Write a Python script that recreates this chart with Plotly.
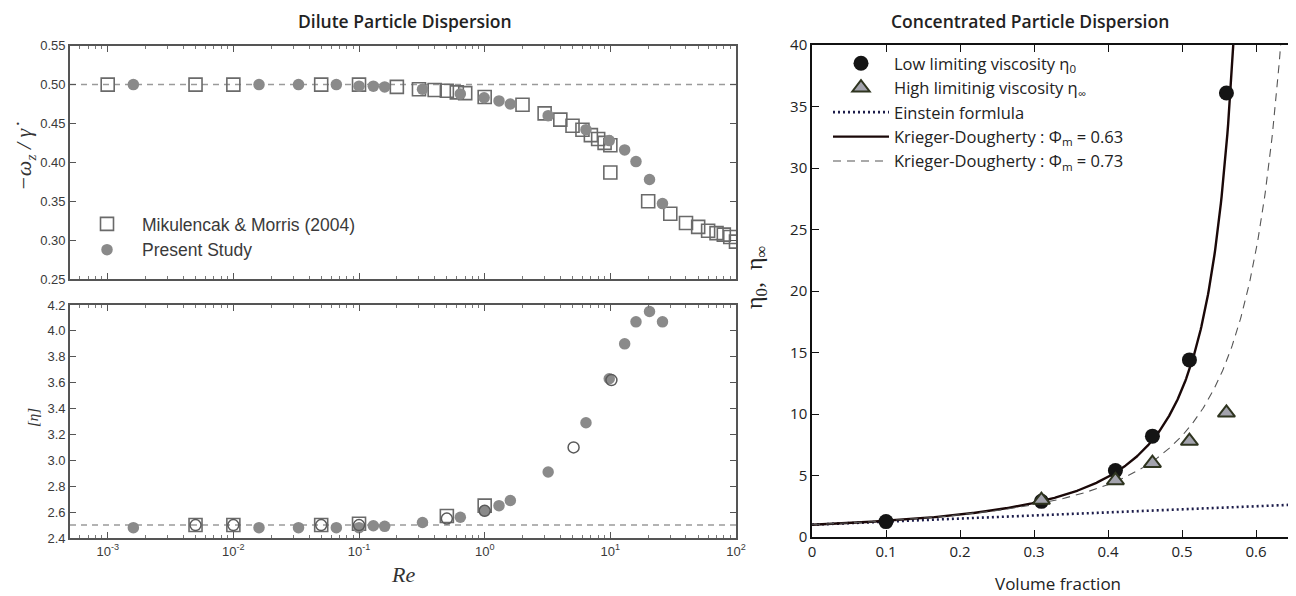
import numpy as np
import plotly.graph_objects as go

# ---------------- Dilute dispersion: rotation rate ----------------
re_mm_w = [0.001, 0.005, 0.01, 0.05, 0.1, 0.2, 0.3, 0.4, 0.5, 0.6, 0.7, 1.0, 2.0, 3.0, 4.0,
           5.0, 6.0, 7.0, 8.0, 9.0, 10.0, 10.0, 20, 30, 40, 50, 60, 70, 80, 90, 100]
w_mm = [0.5, 0.5, 0.5, 0.5, 0.5, 0.497, 0.494, 0.493, 0.492, 0.490, 0.489, 0.484, 0.474, 0.463,
        0.455, 0.447, 0.442, 0.435, 0.430, 0.425, 0.422, 0.387, 0.350, 0.334, 0.322, 0.317,
        0.312, 0.309, 0.307, 0.304, 0.298]
re_ps = [0.0016, 0.016, 0.033, 0.066, 0.1, 0.13, 0.16, 0.32, 0.64, 0.99, 1.3, 1.6, 3.2, 6.4,
         9.8, 13, 16, 20.5, 26]
w_ps = [0.5, 0.5, 0.5, 0.5, 0.498, 0.498, 0.497, 0.494, 0.488, 0.483, 0.479, 0.475, 0.46,
        0.442, 0.428, 0.416, 0.401, 0.378, 0.347]

# ---------------- Dilute dispersion: intrinsic viscosity ----------------
eta_ps = [2.48, 2.48, 2.48, 2.48, 2.48, 2.495, 2.49, 2.52, 2.56, 2.61, 2.65, 2.69, 2.91, 3.29,
          3.63, 3.90, 4.07, 4.15, 4.07]
re_mm_eta = [0.005, 0.01, 0.05, 0.1, 0.5, 1.0]
eta_mm = [2.5, 2.5, 2.5, 2.51, 2.57, 2.65]
re_open = [0.005, 0.01, 0.05, 0.1, 0.5, 1.0, 5.1, 10.2]
eta_open = [2.5, 2.5, 2.5, 2.5, 2.55, 2.61, 3.10, 3.62]

w_ref = 0.5
eta_ref = 2.5

# ---------------- Concentrated dispersion ----------------
phi_low = [0.1, 0.31, 0.41, 0.46, 0.51, 0.56]
eta0 = [1.25, 2.9, 5.4, 8.2, 14.4, 36.1]
phi_high = [0.31, 0.41, 0.46, 0.51, 0.56]
eta_inf = [3.0, 4.6, 6.0, 7.8, 10.1]

INTRINSIC = 2.5
PHI_M = [0.63, 0.73]

x_ticks_re = [0.001, 0.01, 0.1, 1, 10, 100]
x_ticktext_re = ["10<sup>-3</sup>", "10<sup>-2</sup>", "10<sup>-1</sup>", "10<sup>0</sup>",
                 "10<sup>1</sup>", "10<sup>2</sup>"]

phi_grid = np.linspace(0, 0.654, 600)
einstein = 1 + INTRINSIC * phi_grid


def kd(phi, pm):
    out = np.full_like(phi, np.nan)
    m = phi < pm * 0.999
    out[m] = (1 - phi[m] / pm) ** (-INTRINSIC * pm)
    out[out > 45] = np.nan
    return out


GRAY_C = "#8a8a8a"
GRAY_S = "#6a6a6a"

fig = go.Figure()

# top-left
fig.add_trace(go.Scatter(x=re_mm_w, y=w_mm, mode="markers", name="Mikulencak & Morris (2004)",
                         marker=dict(symbol="square-open", size=13, color=GRAY_S, line=dict(width=1.6)),
                         xaxis="x", yaxis="y", legend="legend"))
fig.add_trace(go.Scatter(x=re_ps, y=w_ps, mode="markers", name="Present Study",
                         marker=dict(symbol="circle", size=11.5, color=GRAY_C),
                         xaxis="x", yaxis="y", legend="legend"))
# bottom-left
fig.add_trace(go.Scatter(x=re_mm_eta, y=eta_mm, mode="markers", showlegend=False,
                         marker=dict(symbol="square-open", size=13, color=GRAY_S, line=dict(width=1.6)),
                         xaxis="x2", yaxis="y2"))
fig.add_trace(go.Scatter(x=re_ps, y=eta_ps, mode="markers", showlegend=False,
                         marker=dict(symbol="circle", size=11.5, color=GRAY_C),
                         xaxis="x2", yaxis="y2"))
fig.add_trace(go.Scatter(x=re_open, y=eta_open, mode="markers", showlegend=False,
                         marker=dict(symbol="circle-open", size=11, color="#5a5a5a", line=dict(width=1.5)),
                         xaxis="x2", yaxis="y2"))

# right panel
fig.add_trace(go.Scatter(x=phi_grid, y=einstein, mode="lines", name="Einstein formlula",
                         line=dict(color="#1c1c4a", width=2.6, dash="2px,3px"),
                         xaxis="x3", yaxis="y3", legend="legend2", legendrank=3))
fig.add_trace(go.Scatter(x=phi_grid, y=kd(phi_grid, PHI_M[0]), mode="lines",
                         name="Krieger-Dougherty : Φ<sub>m</sub> = 0.63",
                         line=dict(color="#1a0808", width=2.4),
                         xaxis="x3", yaxis="y3", legend="legend2", legendrank=4))
fig.add_trace(go.Scatter(x=phi_grid, y=kd(phi_grid, PHI_M[1]), mode="lines",
                         name="Krieger-Dougherty : Φ<sub>m</sub> = 0.73",
                         line=dict(color="#555555", width=1.1, dash="8px,6px"),
                         xaxis="x3", yaxis="y3", legend="legend2", legendrank=5))
fig.add_trace(go.Scatter(x=phi_low, y=eta0, mode="markers", name="Low limiting viscosity η<sub>0</sub>",
                         marker=dict(symbol="circle", size=15, color="#141414"),
                         xaxis="x3", yaxis="y3", legend="legend2", legendrank=1))
fig.add_trace(go.Scatter(x=phi_high, y=eta_inf, mode="markers",
                         name="High limitinig viscosity η<sub>∞</sub>",
                         marker=dict(symbol="triangle-up", size=15, color="#a3a3ad",
                                     line=dict(color="#2f3520", width=2)),
                         xaxis="x3", yaxis="y3", legend="legend2", legendrank=2))

W, H = 1296, 596
OFF = 8  # page body margin


def px_x(p):
    return (p - OFF) / W


def px_y(p):
    return 1 - (p - OFF) / H


left_tick_font = dict(family="Liberation Sans, Arial", size=13, color="#3a3a3a")
axis_common_left = dict(showline=True, linecolor="#555555", linewidth=1.8, mirror="ticks",
                        ticks="inside", ticklen=6, tickcolor="#555555", tickwidth=1.2,
                        showgrid=False, zeroline=False, tickfont=left_tick_font, automargin=False)

log_axis = dict(type="log", range=[-3.3, 2.0], tickvals=x_ticks_re,
                minor=dict(ticks="inside", ticklen=3, tickcolor="#777777", dtick="D1", showgrid=False),
                **axis_common_left)

fig.update_layout(
    width=W, height=H,
    margin=dict(l=0, r=0, t=0, b=0, autoexpand=False),
    plot_bgcolor="white", paper_bgcolor="white",
    xaxis=dict(domain=[px_x(70), px_x(736)], anchor="y", showticklabels=False, **log_axis),
    yaxis=dict(domain=[px_y(279), px_y(45.7)], anchor="x", range=[0.25, 0.55], dtick=0.05,
               tickformat=".2f", **axis_common_left),
    xaxis2=dict(domain=[px_x(70), px_x(736)], anchor="y2", ticktext=x_ticktext_re, **log_axis),
    yaxis2=dict(domain=[px_y(538), px_y(305)], anchor="x2", range=[2.4, 4.2], dtick=0.2,
                tickformat=".1f", **axis_common_left),
    xaxis3=dict(domain=[px_x(812), px_x(1296)], anchor="y3", range=[0, 0.654], dtick=0.1,
                showline=True, linecolor="#111111", linewidth=1.5, mirror="ticks",
                ticks="inside", ticklen=7, tickcolor="#111111", showgrid=False, zeroline=False,
                tickvals=[0, 0.1, 0.2, 0.3, 0.4, 0.5, 0.6],
                ticktext=["0", "0.1", "0.2", "0.3", "0.4", "0.5", "0.6"], automargin=False,
                tickfont=dict(family="Open Sans", size=15, color="#222222")),
    yaxis3=dict(domain=[px_y(537), px_y(45)], anchor="x3", range=[0, 40], dtick=5,
                showline=True, linecolor="#111111", linewidth=1.5, automargin=False,
                ticks="inside", ticklen=7, tickcolor="#111111", showgrid=False, zeroline=False,
                tickfont=dict(family="Open Sans", size=15, color="#222222")),
    legend=dict(x=px_x(72), y=px_y(206), xanchor="left", yanchor="top", bgcolor="rgba(0,0,0,0)",
                itemwidth=60, tracegroupgap=0,
                font=dict(family="Liberation Sans, Arial", size=17.5, color="#3a3a3a")),
    legend2=dict(x=px_x(828), y=px_y(46), xanchor="left", yanchor="top", bgcolor="rgba(0,0,0,0)",
                 itemwidth=56, tracegroupgap=0,
                 font=dict(family="Open Sans", size=16.5, color="#222222")),
    shapes=[
        dict(type="line", xref="x domain", yref="y", x0=0, x1=1, y0=w_ref, y1=w_ref,
             line=dict(color="#9a9a9a", width=1.5, dash="6px,5px"), layer="below"),
        dict(type="line", xref="x2 domain", yref="y2", x0=0, x1=1, y0=eta_ref, y1=eta_ref,
             line=dict(color="#9a9a9a", width=1.5, dash="6px,5px"), layer="below"),
    ],
    annotations=[
        dict(text="Dilute Particle Dispersion", x=px_x(405), y=px_y(21), xref="paper", yref="paper",
             xanchor="center", yanchor="middle", showarrow=False,
             font=dict(family="Open Sans", size=17.5, color="#222222", weight=600)),
        dict(text="Concentrated Particle Dispersion", x=px_x(1030), y=px_y(21), xref="paper",
             yref="paper", xanchor="center", yanchor="middle", showarrow=False,
             font=dict(family="Open Sans", size=17.5, color="#222222", weight=600)),
        dict(text="<i>−ω<sub>z</sub> / γ̇</i>", x=px_x(25), y=px_y(157), xref="paper", yref="paper",
             xanchor="center", yanchor="middle", textangle=-90, showarrow=False,
             font=dict(family="Liberation Serif", size=22, color="#333333")),
        dict(text="<i>[η]</i>", x=px_x(33), y=px_y(418), xref="paper", yref="paper",
             xanchor="center", yanchor="middle", textangle=-90, showarrow=False,
             font=dict(family="Liberation Serif", size=15, color="#333333")),
        dict(text="<i>Re</i>", x=px_x(403), y=px_y(574), xref="paper", yref="paper",
             xanchor="center", yanchor="middle",
             showarrow=False, font=dict(family="Liberation Serif", size=22, color="#333333")),
        dict(text="η<sub>0</sub>,  η<sub>∞</sub>", x=px_x(756), y=px_y(278), xref="paper",
             yref="paper", xanchor="center", yanchor="middle", textangle=-90, showarrow=False,
             font=dict(family="Liberation Serif", size=24, color="#222222")),
        dict(text="Volume fraction", x=px_x(1058), y=px_y(583), xref="paper", yref="paper",
             xanchor="center", yanchor="middle",
             showarrow=False, font=dict(family="Open Sans", size=17, color="#222222")),
    ],
)

fig.write_html("out.html")
